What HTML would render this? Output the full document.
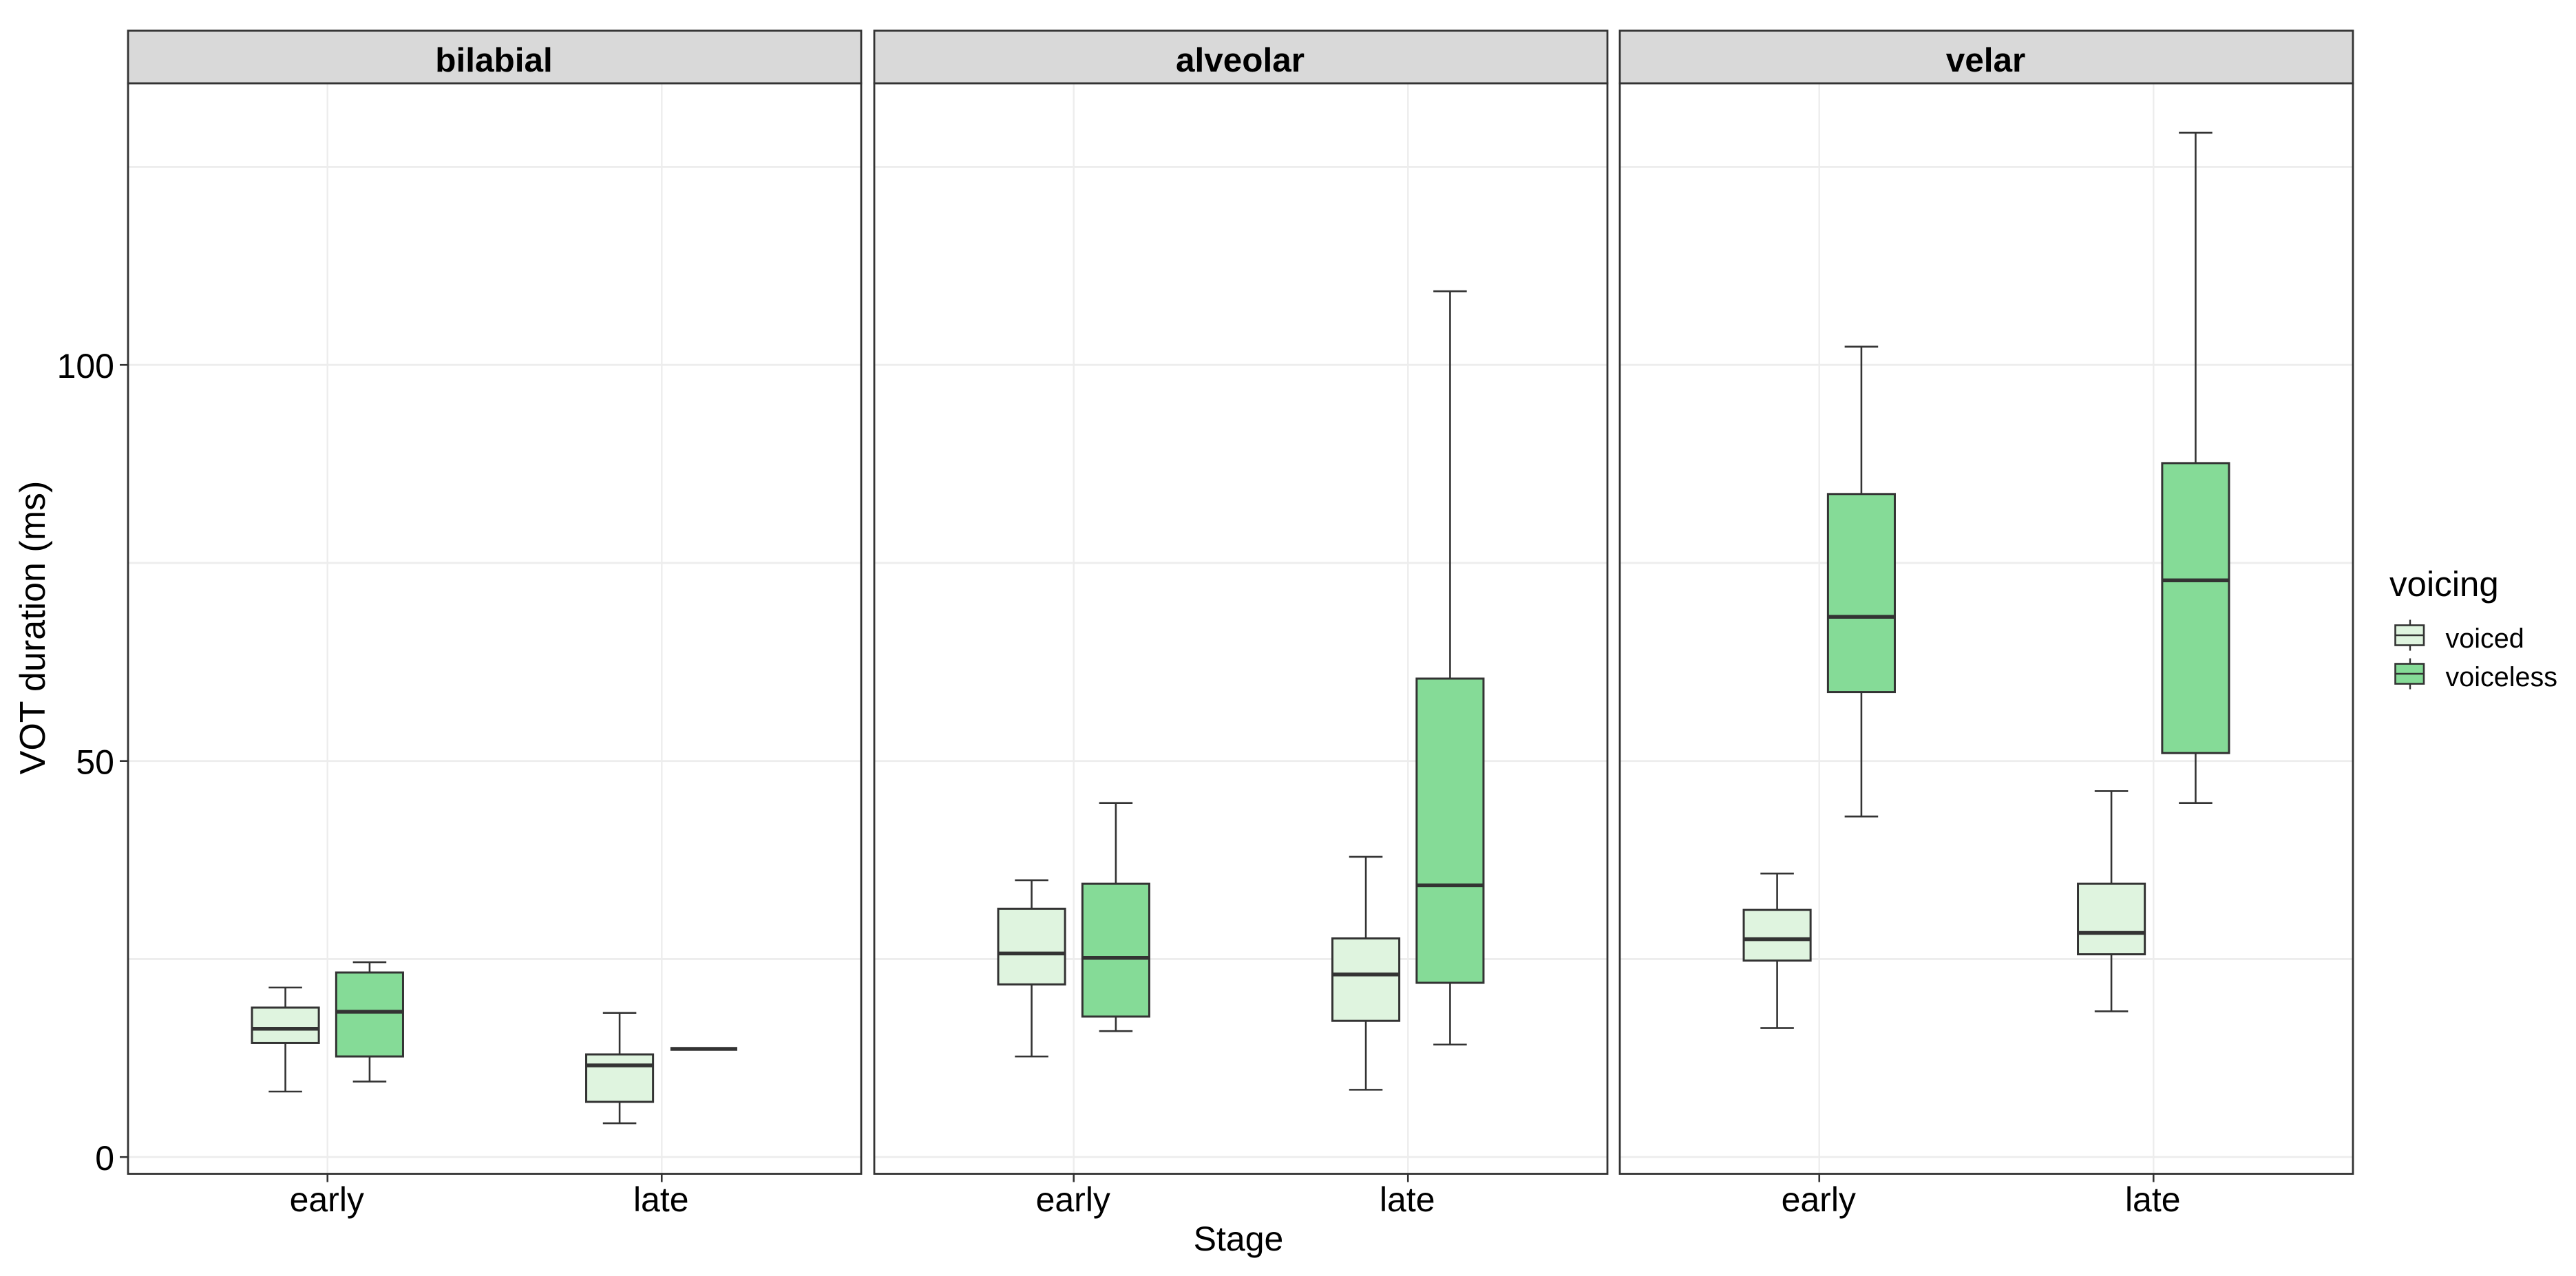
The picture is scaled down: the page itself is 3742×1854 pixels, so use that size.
<!DOCTYPE html>
<html lang="en">
<head>
<meta charset="utf-8">
<title>VOT duration by stage, place and voicing</title>
<style>
html,body{margin:0;padding:0;background:#fff;width:3742px;height:1854px;overflow:hidden}
svg{display:block;position:absolute;left:0;top:0}
text{font-family:"Liberation Sans",Arial,sans-serif;fill:#000}
</style>
</head>
<body>
<svg id="chart" xmlns="http://www.w3.org/2000/svg" width="3742" height="1854" viewBox="0 0 3742 1854"></svg>
<script>
// Data, in facet > stage > voicing order (bilabial, alveolar, velar)
const facets = ['bilabial', 'alveolar', 'velar'];
const stages = ['early', 'late'];
const voicings = ['voiced', 'voiceless'];
const fills = ['#dff4df', '#85db97'];
const yTicks = [0, 50, 100];
const yGrid = [0, 25, 50, 75, 100, 125];
const whiskerHigh = [21.4, 24.6, 18.2, 13.66, 34.95, 44.7, 37.9, 109.3, 35.8, 102.3, 46.2, 129.3];
const boxTop = [18.87, 23.3, 12.96, 13.66, 31.35, 34.5, 27.6, 60.4, 31.2, 83.7, 34.5, 87.6];
const medians = [16.2, 18.35, 11.57, 13.66, 25.7, 25.15, 23.05, 34.3, 27.5, 68.2, 28.3, 72.8];
const boxBottom = [14.4, 12.7, 6.97, 13.66, 21.8, 17.74, 17.2, 22.0, 24.8, 58.7, 25.6, 51.0];
const whiskerLow = [8.27, 9.54, 4.27, 13.66, 12.7, 15.9, 8.5, 14.2, 16.3, 43.0, 18.4, 44.7];

// Layout
const NS = 'http://www.w3.org/2000/svg';
const svg = document.getElementById('chart');
const panelLefts = [186, 1270, 2353];
const panelW = 1065;
const panelTop = 121;
const panelBottom = 1705.5;
const stripTop = 44.5;
const unitPx = 485.5;
const dark = '#333333';
const gridColor = '#ededed';

function yScale(v) { return 1681.2 - 11.51 * v; }
function xScale(panel, stageIndex) { return panelLefts[panel] + panelW / 2 + (stageIndex - 0.5) * unitPx; }
function dodge(voicingIndex) { return (voicingIndex === 0 ? -1 : 1) * 0.126 * unitPx; }

function add(tag, attrs, parent) {
  const el = document.createElementNS(NS, tag);
  for (const k in attrs) el.setAttribute(k, attrs[k]);
  (parent || svg).appendChild(el);
  return el;
}
function line(x1, y1, x2, y2, stroke, width, parent) {
  return add('line', { x1: x1, y1: y1, x2: x2, y2: y2, stroke: stroke, 'stroke-width': width }, parent);
}

const bg = add('rect', { x: 0, y: 0, width: 3742, height: 1854, fill: '#ffffff' });



facets.forEach(function (facet, p) {
  const left = panelLefts[p];
  const right = left + panelW;
  const panel = add('g', {});
  
  

  // Gridlines
  yGrid.forEach(function (v) {
    const g = line(left, yScale(v), right, yScale(v), gridColor, 2.8, panel);
    
    
  });
  stages.forEach(function (s, si) {
    const x = xScale(p, si);
    const g = line(x, panelTop, x, panelBottom, gridColor, 2.4, panel);
    
    
  });

  // Boxes
  stages.forEach(function (s, si) {
    voicings.forEach(function (vo, vi) {
      const i = p * 4 + si * 2 + vi;
      const cx = xScale(p, si) + dodge(vi);
      const halfBox = 0.1 * unitPx;
      const halfCap = 0.05 * unitPx;
      const box = add('g', {}, panel);
      
      

      const wu = line(cx, yScale(whiskerHigh[i]), cx, yScale(boxTop[i]), dark, 2.6, box);
      
      
      const wl = line(cx, yScale(boxBottom[i]), cx, yScale(whiskerLow[i]), dark, 2.6, box);
      
      
      const cu = line(cx - halfCap, yScale(whiskerHigh[i]), cx + halfCap, yScale(whiskerHigh[i]), dark, 2.6, box);
      
      
      const cl = line(cx - halfCap, yScale(whiskerLow[i]), cx + halfCap, yScale(whiskerLow[i]), dark, 2.6, box);
      
      

      const r = add('rect', {
        x: cx - halfBox,
        y: yScale(boxTop[i]),
        width: 2 * halfBox,
        height: yScale(boxBottom[i]) - yScale(boxTop[i]),
        fill: fills[vi],
        stroke: dark,
        'stroke-width': 3
      }, box);
      
      

      const m = line(cx - halfBox, yScale(medians[i]), cx + halfBox, yScale(medians[i]), dark, 5.5, box);
      
      
    });
  });

  // Panel border
  const border = add('rect', { x: left, y: panelTop, width: panelW, height: panelBottom - panelTop, fill: 'none', stroke: dark, 'stroke-width': 2.8 }, panel);
  
  

  // Strip
  const strip = add('rect', { x: left, y: stripTop, width: panelW, height: panelTop - stripTop, fill: '#d9d9d9', stroke: dark, 'stroke-width': 2.8 }, panel);
  
  
  const stripLabel = add('text', { x: left + panelW / 2 - 1, y: 104, 'text-anchor': 'middle', 'font-size': 49.5, 'font-weight': 'bold' }, panel);
  stripLabel.textContent = facet;
  
  

  // X ticks and labels
  stages.forEach(function (s, si) {
    const x = xScale(p, si);
    const t = line(x, panelBottom, x, panelBottom + 12, dark, 2.6, panel);
    
    
    const lab = add('text', { x: x - 1, y: 1760, 'text-anchor': 'middle', 'font-size': 50 }, panel);
    lab.textContent = s;
    
    
  });
});

// Y ticks and labels
yTicks.forEach(function (v) {
  const t = line(174, yScale(v), 186, yScale(v), dark, 2.6);
  
  
  const lab = add('text', { x: 166, y: yScale(v) + 19, 'text-anchor': 'end', 'font-size': 50 });
  lab.textContent = String(v);
  
  
});

// Axis titles
const xTitle = add('text', { x: 1799, y: 1817, 'text-anchor': 'middle', 'font-size': 50 });
xTitle.textContent = 'Stage';


const yTitle = add('text', { x: 0, y: 0, 'text-anchor': 'middle', 'font-size': 52, transform: 'translate(65 912) rotate(-90)' });
yTitle.textContent = 'VOT duration (ms)';



// Legend
const legend = add('g', {});


const legendTitle = add('text', { x: 3471, y: 866, 'font-size': 51 }, legend);
legendTitle.textContent = 'voicing';


voicings.forEach(function (vo, vi) {
  const top = 908.5 + vi * 56;
  const entry = add('g', {}, legend);
  
  
  const whiskA = line(3501, top - 8, 3501, top, dark, 2.4, entry);
  
  
  const whiskB = line(3501, top + 29, 3501, top + 37, dark, 2.4, entry);
  
  
  const key = add('rect', { x: 3479.5, y: top, width: 41.5, height: 29, fill: fills[vi], stroke: dark, 'stroke-width': 2.6 }, entry);
  
  
  const mid = line(3479.5, top + 14.5, 3521, top + 14.5, dark, 2.6, entry);
  
  
  const lab = add('text', { x: 3552.5, y: 941 + vi * 56, 'font-size': 39.5 }, entry);
  lab.textContent = vo;
  
  
});
</script>
</body>
</html>
